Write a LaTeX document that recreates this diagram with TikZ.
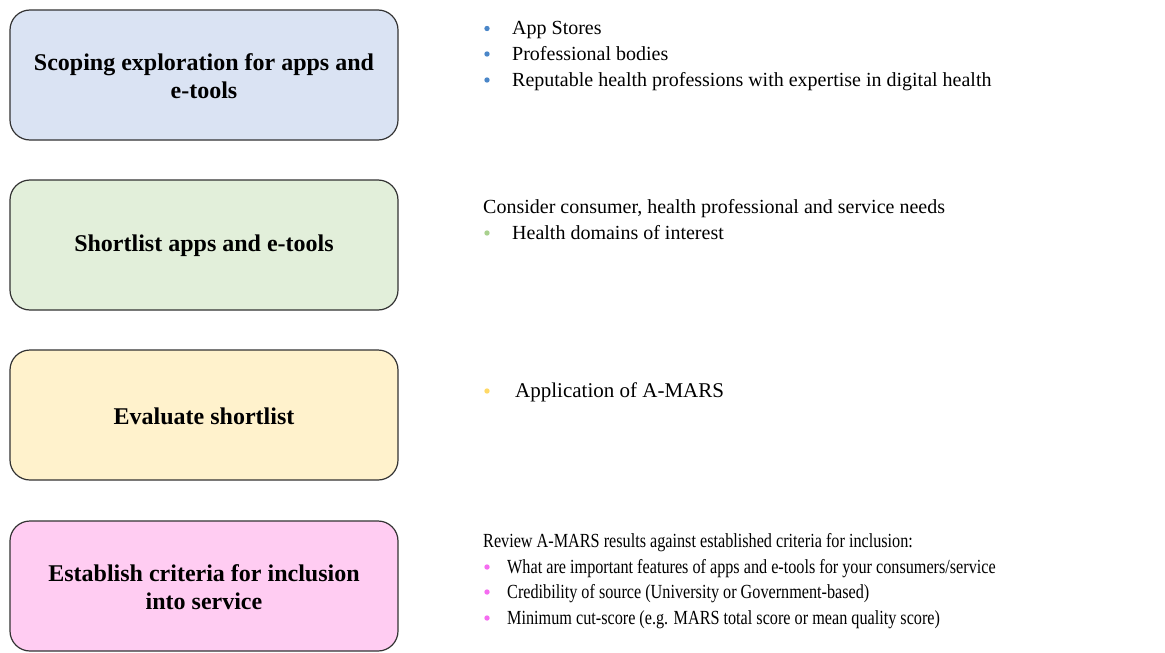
\documentclass[tikz,border=0pt]{standalone}
\usepackage{fontspec}
\setmainfont{Liberation Serif}
\newfontfamily\narrowserif[FakeStretch=0.81]{Liberation Serif}
\definecolor{fillblue}{HTML}{DAE3F3}
\definecolor{fillgreen}{HTML}{E2EFDA}
\definecolor{fillyellow}{HTML}{FFF2CC}
\definecolor{fillpink}{HTML}{FFCCF2}
\definecolor{dotblue}{HTML}{4A86C8}
\definecolor{dotgreen}{HTML}{A9D18E}
\definecolor{dotyellow}{HTML}{FFD966}
\definecolor{dotpink}{HTML}{F56CF0}
\definecolor{edge}{HTML}{333333}
\tikzset{
  stagebox/.style={draw=edge, line width=1.2pt, rounded corners=20pt},
  stagelabel/.style={align=center, font=\fontsize{24}{28}\selectfont\bfseries, inner sep=0pt},
  note/.style={anchor=base west, inner sep=0pt, font=\fontsize{20}{24}\selectfont},
  bignote/.style={note, font=\fontsize{21}{25}\selectfont},
  narrownote/.style={note, font=\narrowserif\fontsize{20}{24}\selectfont},
}
\newcommand{\bulletdot}[3]{\fill[#1] (487,#2-6) circle (2.7pt) coordinate (#3);}
\begin{document}
\begin{tikzpicture}[x=1pt,y=-1pt]
\useasboundingbox (0,0) rectangle (1165,653);

% stage boxes
\draw[stagebox, fill=fillblue]   (10,10)  rectangle (398,140);
\draw[stagebox, fill=fillgreen]  (10,180) rectangle (398,310);
\draw[stagebox, fill=fillyellow] (10,350) rectangle (398,480);
\draw[stagebox, fill=fillpink]   (10,521) rectangle (398,651);

\node[stagelabel] (s1) at (204,76)  {Scoping exploration for apps and\\e-tools};
\node[stagelabel] (s2) at (204,246) {Shortlist apps and e-tools};
\node[stagelabel] (s3) at (204,416) {Evaluate shortlist};
\node[stagelabel] (s4) at (204,587) {Establish criteria for inclusion\\into service};

% notes for stage 1
\bulletdot{dotblue}{34.5}{b11}
\bulletdot{dotblue}{60}{b12}
\bulletdot{dotblue}{86}{b13}
\node[note] (n11) at (512,34.5) {App Stores};
\node[note] (n12) at (512,60)   {Professional bodies};
\node[note] (n13) at (512,86)   {Reputable health professions with expertise in digital health};

% notes for stage 2
\node[note] (n20) at (483,213) {Consider consumer, health professional and service needs};
\bulletdot{dotgreen}{239}{b21}
\node[note] (n21) at (512,239) {Health domains of interest};

% notes for stage 3
\bulletdot{dotyellow}{397}{b31}
\node[bignote] (n31) at (515,397) {Application of A-MARS};

% notes for stage 4
\node[narrownote] (n40) at (483,547) {Review A-MARS results against established criteria for inclusion:};
\bulletdot{dotpink}{573}{b41}
\bulletdot{dotpink}{598}{b42}
\bulletdot{dotpink}{624}{b43}
\node[narrownote] (n41) at (507,573) {What are important features of apps and e-tools for your consumers/service};
\node[narrownote] (n42) at (507,598) {Credibility of source (University or Government-based)};
\node[narrownote] (n43) at (507,624) {Minimum cut-score (e.g. MARS total score or mean quality score)};
\end{tikzpicture}
\end{document}
